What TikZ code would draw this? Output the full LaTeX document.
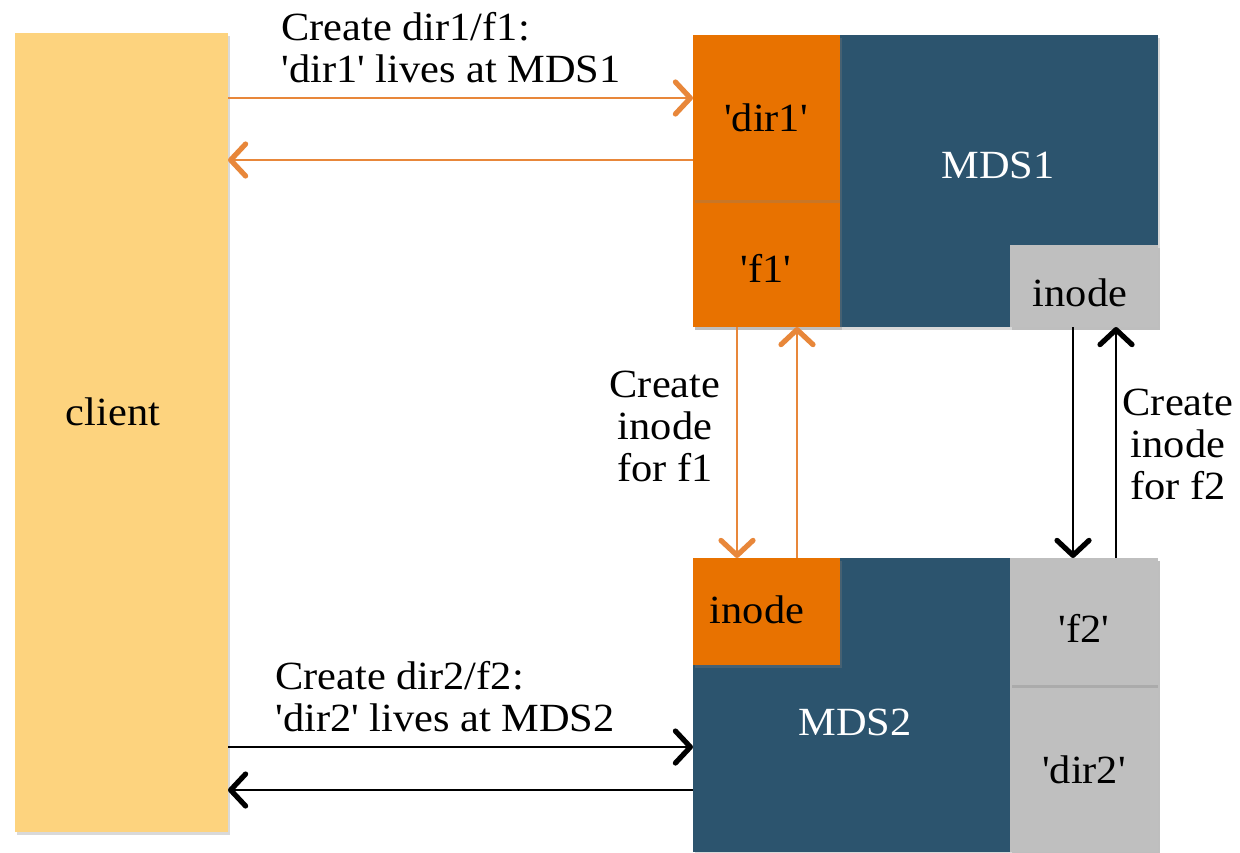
\documentclass[tikz,border=0pt]{standalone}
\usepackage{fontspec}
\setmainfont{Liberation Serif}[Ligatures=TeXOff,FakeStretch=1.06]
\usetikzlibrary{arrows.meta,shadows}
\definecolor{clientc}{HTML}{FDD37E}
\definecolor{orangec}{HTML}{E87200}
\definecolor{orangeln}{HTML}{E8873A}
\definecolor{tealc}{HTML}{2C546E}
\definecolor{grayc}{HTML}{BFBFBF}
\begin{document}
\begin{tikzpicture}[x=0.5pt,y=-0.5pt,
  box/.style={draw=none,inner sep=0pt,outer sep=0pt,
    drop shadow={shadow xshift=1pt,shadow yshift=-1.5pt,opacity=0.3}},
  lbl/.style={font=\fontsize{20}{21}\selectfont,inner sep=0pt},
  tip/.style={-{Straight Barb[length=7.5pt,width=16pt,line width=2.6pt,round]}},
  oarr/.style={tip,draw=orangeln,line width=1.4pt,color=orangeln},
  karr/.style={tip,draw=black,line width=1.4pt}]
\useasboundingbox (0,0) rectangle (1240,852);
% client
\node[box,fill=clientc,minimum width=106.5pt,minimum height=399.5pt] (client) at (121.5,432.5) {};
\node[lbl] (clientlbl) at (113,412) {client};
% MDS1
\node[box,fill=tealc,minimum width=232.5pt,minimum height=146pt] (mds1) at (925.5,181) {};
\node[box,fill=orangec,minimum width=73.5pt,minimum height=63.5pt] (f1) at (766.5,263.5) {};
\node[box,fill=orangec,minimum width=73.5pt,minimum height=82.5pt] (dir1) at (766.5,117.5) {};
\node[box,fill=grayc,minimum width=74pt,minimum height=41pt] (inode1) at (1084,286) {};
\node[lbl,text=white] (mds1lbl) at (998,165) {MDS1};
\node[lbl] (dir1lbl) at (766,118) {'dir1'};
\node[lbl] (f1lbl) at (766,268) {'f1'};
\node[lbl] (inode1lbl) at (1080,293) {inode};
% MDS2
\node[box,fill=tealc,minimum width=232.5pt,minimum height=147pt] (mds2) at (925.5,705) {};
\node[box,fill=orangec,minimum width=73.5pt,minimum height=53.5pt] (inode2) at (766.5,611.5) {};
\node[box,fill=grayc,minimum width=74pt,minimum height=83.5pt] (dir2) at (1084,768.5) {};
\node[box,fill=grayc,minimum width=74pt,minimum height=63.5pt] (f2) at (1084,621.5) {};
\node[lbl,text=white] (mds2lbl) at (855,722) {MDS2};
\node[lbl] (inode2lbl) at (757,610) {inode};
\node[lbl] (f2lbl) at (1084,628) {'f2'};
\node[lbl] (dir2lbl) at (1084,770) {'dir2'};
% connectors
\draw[oarr] (client.east |- {(0,98)}) -- (mds1.west |- {(0,98)});
\draw[oarr] (mds1.west |- {(0,160)}) -- (client.east |- {(0,160)});
\draw[oarr] (f1.south -| {(737,0)}) -- (inode2.north -| {(737,0)});
\draw[oarr] (inode2.north -| {(797,0)}) -- (f1.south -| {(797,0)});
\draw[karr] (inode1.south -| {(1073,0)}) -- (f2.north -| {(1073,0)});
\draw[karr] (f2.north -| {(1116,0)}) -- (inode1.south -| {(1116,0)});
\draw[karr] (client.east |- {(0,747)}) -- (mds2.west |- {(0,747)});
\draw[karr] (mds2.west |- {(0,790)}) -- (client.east |- {(0,790)});
% labels
\node[lbl,align=left,anchor=west] (t1) at (281,48) {Create dir1/f1:\\'dir1' lives at MDS1};
\node[lbl,align=left,anchor=west] (t2) at (275,697) {Create dir2/f2:\\'dir2' lives at MDS2};
\node[lbl,align=center] (t3) at (665,426) {Create\\inode\\for f1};
\node[lbl,align=center] (t4) at (1178,444) {Create\\inode\\for f2};
\end{tikzpicture}
\end{document}
